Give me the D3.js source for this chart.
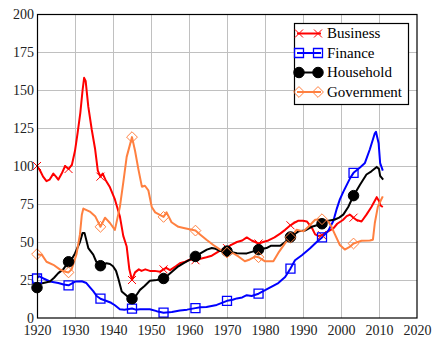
<!DOCTYPE html>
<html>
<head>
<meta charset="utf-8">
<script src="https://cdn.jsdelivr.net/npm/d3@7"></script>
<style>
  html, body { margin: 0; padding: 0; background: #fff; }
  svg { display: block; }
  text { font-family: "Liberation Serif", "Times New Roman", serif; }
</style>
</head>
<body>
<svg id="chart" width="438" height="349"></svg>
<script>
// Debt-to-GDP style series by sector, 1920–2011 ([year, percent])
const business = [
  [1920,100],[1920.8,97],[1921.6,93],[1922.5,90],[1923.3,91],[1924.3,95],[1925,93],[1925.6,91],
  [1926.5,95],[1927.4,100],[1928.3,98],[1929.2,101],[1930,110],[1930.7,122],[1931.4,135],[1932,150],
  [1932.4,158],[1932.8,156],[1933.5,139],[1934.4,124],[1935.3,111],[1936,97],[1936.7,93],[1937.3,95],
  [1938,91],[1939.2,86],[1940.5,78],[1941.8,67],[1942.7,54],[1943.6,47],[1944.3,32],[1945,25],
  [1945.8,30],[1946.8,32],[1947.5,31],[1948.5,32],[1949.7,31],[1951,31],[1952.4,30.5],[1953.3,32],
  [1954,33],[1955,31.5],[1956.5,34],[1957.6,36],[1959,37],[1960.3,38.5],[1961.7,38],[1963,39],
  [1964.6,40],[1966,41],[1967.3,43],[1968.6,45],[1970,46],[1971,48],[1972.6,50],[1974,51],
  [1975.2,53],[1976.5,51],[1977.4,50],[1978.3,49],[1979.5,50],[1980.9,51],[1982.5,53],[1984,55.5],
  [1985.3,58],[1986.7,61],[1988,63],[1988.8,64],[1990,64],[1991,63.5],[1992.3,59.5],[1993.2,55],
  [1994,54],[1995,54.5],[1996.6,57],[1998,59],[1999,62],[2000.5,64.5],[2001.5,67],[2002.4,68],
  [2003.3,66],[2004.1,64.5],[2005.4,63.5],[2006.7,68],[2008,73],[2009.4,79.5],[2010,77],[2010.4,74],
  [2011,73]
];
const finance = [
  [1920,26],[1920.5,27.5],[1921.7,26],[1923.4,24],[1925.6,23],[1927,22],[1928.3,21.5],[1929,22.5],
  [1930,24],[1931.8,24.2],[1933,23],[1934,20],[1934.8,17.7],[1935.7,14.5],[1936.7,12.7],[1938.3,11.2],
  [1939.5,10],[1940.5,8.4],[1941.8,5.8],[1943,5.5],[1945,6.2],[1946,5.5],[1947.1,5.8],[1949.7,5.8],
  [1951.5,4.5],[1953.3,3.5],[1955.5,4],[1957.6,5],[1959.5,5.5],[1961.7,6.5],[1963,7],[1964.6,7.2],
  [1967.3,8.6],[1970,11.3],[1971.5,12],[1972.6,12.9],[1974,13.5],[1975.2,15],[1976.5,14.5],[1978.3,16],
  [1980.9,19.5],[1983.5,23],[1985.3,27],[1986.7,32.5],[1987.9,38],[1989.7,41.3],[1991.8,45.7],[1993.6,50],
  [1995,53],[1996.7,57.6],[1998,64],[1998.9,72],[1999.7,78],[2000.6,83],[2002.4,92],[2003.3,95.5],
  [2005,99],[2006.3,102],[2007.6,111],[2008.9,121.5],[2009.2,122.5],[2009.9,115],[2010.3,102],[2011,97]
];
const household = [
  [1920,20],[1920.8,22.5],[1921.7,23],[1923.4,24],[1924.5,26.5],[1925.6,29.5],[1926.9,32],[1928.3,37],
  [1929.2,39],[1930,42.5],[1931.3,50],[1932,56],[1932.5,56],[1933.5,46],[1934.8,41.7],[1935.6,37],
  [1936.7,34.4],[1937.5,35.5],[1938.3,36],[1939.2,35.5],[1940,34],[1940.8,31],[1941.4,26],[1942.3,17.5],
  [1943.6,14.6],[1945,12.7],[1946,14.5],[1947.1,18.5],[1948.3,21],[1949.7,24.5],[1951.5,25],[1953.3,26],
  [1954.6,28.5],[1955.9,31.3],[1957.2,34],[1958.5,36],[1960,38],[1961.7,40.5],[1963,42.5],[1964.7,45],
  [1966,46],[1967,45.5],[1968.2,44],[1970,44],[1971,43.5],[1972.6,42.6],[1975.2,42.5],[1976.5,43.5],
  [1978.3,45],[1980.4,46],[1981.5,47.5],[1984,47.5],[1985.3,50],[1986.7,53.3],[1988.8,57],[1990.6,57.6],
  [1992.3,60],[1995,62],[1996.7,64],[1998.4,64.8],[1999.5,66],[2000.6,68],[2001.9,73],[2003.3,80.5],
  [2005,87.7],[2006.7,94.4],[2008,96.5],[2009.4,99.4],[2010,98],[2010.3,93.5],[2011.1,91]
];
const government = [
  [1920,42],[1921.3,41.5],[1922.5,37],[1924.3,35],[1926,32],[1927.2,30.6],[1928.3,30],[1929.1,32],
  [1930.4,42],[1931.3,55],[1931.8,68],[1932.2,72],[1933.9,70],[1935.3,67],[1936.7,60],[1937.9,66],
  [1939.2,62.5],[1940.5,58],[1941.8,73],[1942.7,89],[1943.6,106],[1945,119],[1945.8,110],[1946.7,97.6],
  [1947.6,86.4],[1948.4,87],[1949.3,84],[1950.2,73],[1951.1,69.5],[1953.3,66.5],[1954.1,69.5],[1955.4,63],
  [1957.2,60],[1958.9,59],[1961.7,57.5],[1962.9,55],[1964.6,51.5],[1966.4,48],[1968.2,45],[1970,43],
  [1971.6,42.6],[1973,40.5],[1974.7,37.3],[1976,38.5],[1977.4,40.4],[1978.3,40],[1980,37.3],[1982.2,37.3],
  [1983.5,42.8],[1985.3,49.3],[1986.7,53],[1988.3,58],[1990.1,57],[1991.4,60],[1993.2,64.6],[1995,65],
  [1996.7,63.4],[1997.5,60],[1998.4,55],[1999.7,48],[2001,45],[2002.4,47],[2003.3,49],[2005.4,50.8],
  [2007.6,51],[2008.4,51.5],[2008.9,62.5],[2009.7,73.3],[2010.4,77],[2011,80]
];

// Years at which each series carries a marker
const markerYears = [1920, 1928.3, 1936.7, 1945, 1953.3, 1961.7, 1970, 1978.3, 1986.7, 1995, 2003.3];

const xTicks = [1920, 1930, 1940, 1950, 1960, 1970, 1980, 1990, 2000, 2010, 2020];
const yTicks = [0, 25, 50, 75, 100, 125, 150, 175, 200];

const seriesNames = ["Business", "Finance", "Household", "Government"];
const seriesColors = ["#ff0000", "#0000ff", "#000000", "#ff8040"];

const series = [
  { name: seriesNames[0], data: business,   color: seriesColors[0], marker: "x" },
  { name: seriesNames[1], data: finance,    color: seriesColors[1], marker: "square" },
  { name: seriesNames[2], data: household,  color: seriesColors[2], marker: "circle" },
  { name: seriesNames[3], data: government, color: seriesColors[3], marker: "diamond" }
];

const margin = { left: 37, top: 14, right: 21, bottom: 31 };
const W = 438, H = 349;
const iw = W - margin.left - margin.right;
const ih = H - margin.top - margin.bottom;

const svg = d3.select("#chart");
const g = svg.append("g").attr("transform", `translate(${margin.left},${margin.top})`);

const x = d3.scaleLinear().domain([1920, 2020]).range([0, iw]);
const y = d3.scaleLinear().domain([0, 200]).range([ih, 0]);

// Grid
g.append("g").selectAll("line").data(xTicks.slice(1, -1)).join("line")
  .attr("x1", d => Math.round(x(d)) + 0.5).attr("x2", d => Math.round(x(d)) + 0.5)
  .attr("y1", 0).attr("y2", ih)
  .attr("stroke", "#c0c0c0").attr("stroke-width", 1);
g.append("g").selectAll("line").data(yTicks.slice(1, -1)).join("line")
  .attr("y1", d => Math.round(y(d)) + 0.5).attr("y2", d => Math.round(y(d)) + 0.5)
  .attr("x1", 0).attr("x2", iw)
  .attr("stroke", "#c0c0c0").attr("stroke-width", 1);

// Axes with labels
const xAxis = d3.axisBottom(x).tickValues(xTicks).tickFormat(d3.format("d")).tickSize(0).tickPadding(7);
const yAxis = d3.axisLeft(y).tickValues(yTicks).tickSize(0).tickPadding(3);
const gx = g.append("g").attr("transform", `translate(0,${ih})`).call(xAxis);
const gy = g.append("g").call(yAxis);
[gx, gy].forEach(a => {
  a.select(".domain").remove();
  a.selectAll("text")
    .attr("font-family", "'Liberation Serif', 'Times New Roman', serif")
    .attr("font-size", 14)
    .attr("fill", "#222");
});
gx.selectAll("text").attr("dy", "0.68em");
gy.selectAll("text").attr("dy", "0.3em");

// Markers
function markerPath(kind, s) {
  const h = s / 2;
  switch (kind) {
    case "x": return `M${-h},${-h}L${h},${h}M${-h},${h}L${h},${-h}`;
    case "square": return `M${-h},${-h}H${h}V${h}H${-h}Z`;
    case "diamond": return `M0,${-h * 1.2}L${h * 1.2},0L0,${h * 1.2}L${-h * 1.2},0Z`;
    default: return d3.symbol(d3.symbolCircle, Math.PI * h * h)();
  }
}
function drawMarker(sel, kind, color) {
  const size = kind === "x" ? 8 : (kind === "circle" ? 10.5 : 9);
  sel.append("path")
    .attr("d", markerPath(kind, size))
    .attr("fill", kind === "circle" ? color : "none")
    .attr("stroke", color)
    .attr("stroke-width", kind === "square" ? 1.3 : 1);
}

svg.append("defs").append("clipPath").attr("id", "plotclip")
  .append("rect").attr("width", iw).attr("height", ih);

const line = d3.line().x(d => x(d[0])).y(d => y(d[1]));
const plot = g.append("g").attr("clip-path", "url(#plotclip)");

series.forEach(s => {
  plot.append("path")
    .datum(s.data)
    .attr("d", line)
    .attr("fill", "none")
    .attr("stroke", s.color)
    .attr("stroke-width", 2)
    .attr("stroke-linejoin", "round");
  const pts = s.data.filter(d => markerYears.includes(d[0]));
  pts.forEach(d => {
    const m = g.append("g").attr("transform", `translate(${x(d[0])},${y(d[1])})`);
    drawMarker(m, s.marker, s.color);
  });
});

// Plot frame
g.append("rect")
  .attr("x", 0.5).attr("y", 0.5)
  .attr("width", iw - 0.5).attr("height", ih - 0.5)
  .attr("fill", "none").attr("stroke", "#000").attr("stroke-width", 1.2);

// Legend
const lg = svg.append("g").attr("transform", "translate(294,23)");
lg.append("rect")
  .attr("x", 0.5).attr("y", 0.5).attr("width", 114).attr("height", 81)
  .attr("fill", "#fff").attr("stroke", "#000").attr("stroke-width", 1.2);
series.forEach((s, i) => {
  const cy = 10.5 + i * 19.5;
  const row = lg.append("g").attr("transform", `translate(0,${cy})`);
  row.append("line").attr("x1", 3).attr("x2", 27).attr("y1", 0).attr("y2", 0)
    .attr("stroke", s.color).attr("stroke-width", 2);
  [5, 24].forEach(px => {
    const m = row.append("g").attr("transform", `translate(${px},0)`);
    drawMarker(m, s.marker, s.color);
  });
  row.append("text")
    .attr("x", 33).attr("y", 0).attr("dy", "0.33em")
    .attr("font-size", 15).attr("fill", "#000")
    .text(s.name);
});
</script>
</body>
</html>
